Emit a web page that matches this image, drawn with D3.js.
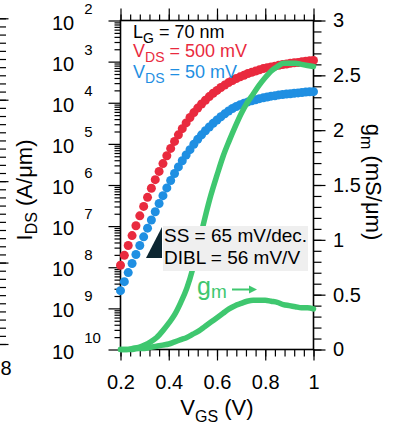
<!DOCTYPE html>
<html>
<head>
<meta charset="utf-8">
<script src="https://cdn.jsdelivr.net/npm/d3@7"></script>
<style>
  body { margin: 0; background: #fff; }
  svg { display: block; font-family: "Liberation Sans", Arial, sans-serif; }
</style>
</head>
<body>
<svg id="chart" width="394" height="424"></svg>
<script>
// gate voltage sweep of the measured transfer curves (V)
const vgs = [0.200,0.216,0.232,0.248,0.264,0.280,0.296,0.312,0.328,0.344,
  0.360,0.376,0.392,0.408,0.424,0.440,0.456,0.472,0.488,0.504,
  0.520,0.536,0.552,0.568,0.584,0.600,0.616,0.632,0.648,0.664,
  0.680,0.696,0.712,0.728,0.744,0.760,0.776,0.792,0.808,0.824,
  0.840,0.856,0.872,0.888,0.904,0.920,0.936,0.952,0.968,0.984,1.000];
// log10 of I_DS (A/um), V_DS = 500 mV
const logIdsHigh = [-7.95,-7.71,-7.47,-7.23,-6.99,-6.75,-6.52,-6.30,-6.08,-5.87,
  -5.67,-5.48,-5.29,-5.11,-4.94,-4.78,-4.63,-4.49,-4.36,-4.24,
  -4.13,-4.03,-3.94,-3.85,-3.77,-3.70,-3.63,-3.57,-3.51,-3.46,
  -3.41,-3.37,-3.33,-3.29,-3.26,-3.23,-3.20,-3.17,-3.15,-3.13,
  -3.11,-3.09,-3.07,-3.06,-3.04,-3.03,-3.02,-3.00,-2.99,-2.98,-2.97];
// log10 of I_DS (A/um), V_DS = 50 mV
const logIdsLow = [-8.57,-8.35,-8.13,-7.91,-7.69,-7.47,-7.26,-7.05,-6.85,-6.65,
  -6.45,-6.26,-6.07,-5.89,-5.72,-5.56,-5.41,-5.27,-5.14,-5.01,
  -4.89,-4.78,-4.68,-4.59,-4.50,-4.42,-4.34,-4.27,-4.20,-4.14,
  -4.09,-4.05,-4.01,-3.98,-3.95,-3.93,-3.90,-3.88,-3.86,-3.84,
  -3.83,-3.81,-3.80,-3.79,-3.78,-3.77,-3.76,-3.75,-3.74,-3.735,-3.73];

// transconductance (mS/um)
const vgsGm = [0.200,0.225,0.250,0.275,0.300,0.325,0.350,0.375,0.400,0.425,
  0.450,0.475,0.500,0.525,0.550,0.575,0.600,0.625,0.650,0.675,
  0.700,0.725,0.750,0.775,0.800,0.825,0.850,0.875,0.900,0.925,
  0.950,0.975,1.000];
const gmHigh = [0.00,0.00,0.01,0.02,0.04,0.07,0.11,0.17,0.24,0.32,
  0.43,0.56,0.74,0.97,1.20,1.41,1.59,1.76,1.90,2.03,
  2.15,2.25,2.33,2.41,2.48,2.54,2.58,2.61,2.61,2.61,
  2.60,2.59,2.58];
const gmLow = [0.00,0.00,0.00,0.01,0.01,0.02,0.03,0.04,0.05,0.07,
  0.09,0.11,0.14,0.17,0.21,0.25,0.29,0.33,0.37,0.40,
  0.42,0.44,0.45,0.45,0.45,0.44,0.43,0.41,0.40,0.39,
  0.38,0.38,0.37];

const xTicks = [0.2, 0.4, 0.6, 0.8, 1];
const xTickLabels = ["0.2", "0.4", "0.6", "0.8", "1"];
const idsExps = [2, 3, 4, 5, 6, 7, 8, 9, 10];
const gmTicks = [0, 0.5, 1, 1.5, 2, 2.5, 3];
const gmTickLabels = ["0", "0.5", "1", "1.5", "2", "2.5", "3"];

const red = "#e92a3e", blue = "#1f8fe2", green = "#3fc76f";

const svg = d3.select("#chart");
const pLeft = 120.5, pRight = 313.5, pTop = 20.5, pBottom = 349.5;

const x = d3.scaleLinear().domain([0.2, 1]).range([pLeft, pRight]);
const yI = d3.scaleLog().domain([1e-10, 1e-2]).range([pBottom, pTop]);
const yG = d3.scaleLinear().domain([0, 3]).range([pBottom, pTop]);

function tidy(g) {
  g.select(".domain").remove();
  g.selectAll(".tick line").attr("stroke", "#000").attr("stroke-width", 1.2);
  g.attr("font-family", null).attr("font-size", 20);
  g.selectAll(".tick text").attr("fill", "#000");
}

// neighbouring panel's edge on the far left
const yN = d3.scaleLinear().domain([0, 4]).range([344, 18.3]);
svg.append("g")
  .call(d3.axisRight(yN).tickValues(d3.range(0, 4.01, 0.1)).tickSize(6).tickFormat(""))
  .call(tidy);
svg.append("g")
  .call(d3.axisRight(yN).tickValues([0, 1, 2, 3, 4]).tickSize(8.5).tickFormat(""))
  .call(tidy);
svg.append("text").attr("x", 0.5).attr("y", 375).attr("font-size", 20).text("8");

// minor ticks
const logMinor = [];
for (let e = -10; e < -2; e++) for (let m = 2; m <= 9; m++) logMinor.push(m * Math.pow(10, e));
svg.append("g").attr("transform", `translate(${pLeft},0)`)
  .call(d3.axisLeft(yI).tickValues(logMinor).tickSize(6).tickFormat(""))
  .call(tidy);
const xMinor = d3.range(0.2, 1.001, 0.04);
svg.append("g").attr("transform", `translate(0,${pBottom})`)
  .call(d3.axisBottom(x).tickValues(xMinor).tickSize(7).tickFormat(""))
  .call(tidy);
svg.append("g").attr("transform", `translate(0,${pTop})`)
  .call(d3.axisTop(x).tickValues(xMinor).tickSize(6).tickFormat(""))
  .call(tidy);
svg.append("g").attr("transform", `translate(${pRight},0)`)
  .call(d3.axisRight(yG).tickValues(d3.range(0, 3.01, 0.1)).tickSize(8).tickFormat(""))
  .call(tidy);

// major ticks + labels
const gL = svg.append("g").attr("transform", `translate(${pLeft},0)`)
  .call(d3.axisLeft(yI).tickValues(idsExps.map(e => Math.pow(10, -e))).tickSize(12).tickFormat(() => "10"))
  .call(tidy);
gL.selectAll(".tick text")
  .attr("text-anchor", "start").attr("x", -68.5).attr("dy", null).attr("y", 8.5)
  .append("tspan").attr("dx", 10).attr("dy", -16).attr("font-size", 15)
  .text(d => Math.round(-Math.log10(d)));

svg.append("g").attr("transform", `translate(0,${pBottom})`)
  .call(d3.axisBottom(x).tickValues(xTicks).tickSize(11).tickPadding(14).tickFormat((d, i) => xTickLabels[i]))
  .call(tidy);
svg.append("g").attr("transform", `translate(0,${pTop})`)
  .call(d3.axisTop(x).tickValues(xTicks).tickSize(12).tickFormat(""))
  .call(tidy);
svg.append("g").attr("transform", `translate(${pRight},0)`)
  .call(d3.axisRight(yG).tickValues(gmTicks).tickSize(12).tickPadding(7.5).tickFormat((d, i) => gmTickLabels[i]))
  .call(tidy);

// frame
svg.append("rect")
  .attr("x", pLeft).attr("y", pTop).attr("width", pRight - pLeft).attr("height", pBottom - pTop)
  .attr("fill", "none").attr("stroke", "#000").attr("stroke-width", 1.6);

// I_DS dots
svg.append("g").selectAll("circle").data(vgs.map((v, i) => [v, logIdsHigh[i]]))
  .join("circle")
  .attr("cx", d => x(d[0])).attr("cy", d => yI(Math.pow(10, d[1]))).attr("r", 4.5)
  .attr("fill", red);
svg.append("g").selectAll("circle").data(vgs.map((v, i) => [v, logIdsLow[i]]))
  .join("circle")
  .attr("cx", d => x(d[0])).attr("cy", d => yI(Math.pow(10, d[1]))).attr("r", 4.5)
  .attr("fill", blue);

// gm lines
const gmLine = d3.line().x(d => x(d[0])).y(d => yG(d[1])).curve(d3.curveMonotoneX);
[gmLow, gmHigh].forEach(s => {
  svg.append("path")
    .datum(vgsGm.map((v, i) => [v, s[i]]))
    .attr("d", gmLine)
    .attr("fill", "none").attr("stroke", green).attr("stroke-width", 5.5)
    .attr("stroke-linecap", "round");
});

// gm label + arrow
const gmT = svg.append("text").attr("x", 197).attr("y", 295).attr("fill", green).attr("font-size", 25);
gmT.append("tspan").text("g");
gmT.append("tspan").attr("dy", 3).attr("font-size", 19).text("m");
svg.append("line").attr("x1", 232).attr("x2", 251).attr("y1", 289.5).attr("y2", 289.5)
  .attr("stroke", green).attr("stroke-width", 2);
svg.append("path").attr("d", "M257,289.5 L249,285.5 L249,293.5 Z").attr("fill", green);

// SS / DIBL box
svg.append("rect").attr("x", 163).attr("y", 226).attr("width", 145).attr("height", 45).attr("fill", "#efefef");
svg.append("text").attr("x", 164).attr("y", 242).attr("font-size", 19).text("SS = 65 mV/dec.");
svg.append("text").attr("x", 164).attr("y", 263.5).attr("font-size", 19).text("DIBL = 56 mV/V");
svg.append("path").attr("d", "M146,258 L162,258 L162,227 Z").attr("fill", "#0c2631");

// legend
function subLabel(xp, yp, main, sub, rest, color) {
  const t = svg.append("text").attr("x", xp).attr("y", yp).attr("font-size", 18).attr("fill", color);
  t.append("tspan").text(main);
  t.append("tspan").attr("dy", 5).attr("font-size", 14).text(sub);
  t.append("tspan").attr("dy", -5).text(rest);
}
subLabel(133, 38, "L", "G", " = 70 nm", "#000");
subLabel(133, 57, "V", "DS", " = 500 mV", red);
subLabel(133, 78, "V", "DS", " = 50 mV", blue);

// axis titles
const yt = svg.append("text").attr("transform", "translate(32,190) rotate(-90)")
  .attr("text-anchor", "middle").attr("font-size", 22);
yt.append("tspan").text("I");
yt.append("tspan").attr("dy", 5).attr("font-size", 16).text("DS");
yt.append("tspan").attr("dy", -5).text(" (A/\u03bcm)");

const rt = svg.append("text").attr("transform", "translate(366,182) rotate(90)")
  .attr("text-anchor", "middle").attr("font-size", 22);
rt.append("tspan").text("g");
rt.append("tspan").attr("dy", 5).attr("font-size", 16).text("m");
rt.append("tspan").attr("dy", -5).text(" (mS/\u03bcm)");

const xt = svg.append("text").attr("x", 217).attr("y", 415)
  .attr("text-anchor", "middle").attr("font-size", 22);
xt.append("tspan").text("V");
xt.append("tspan").attr("dy", 7).attr("font-size", 16).text("GS");
xt.append("tspan").attr("dy", -7).text(" (V)");
</script>
</body>
</html>
